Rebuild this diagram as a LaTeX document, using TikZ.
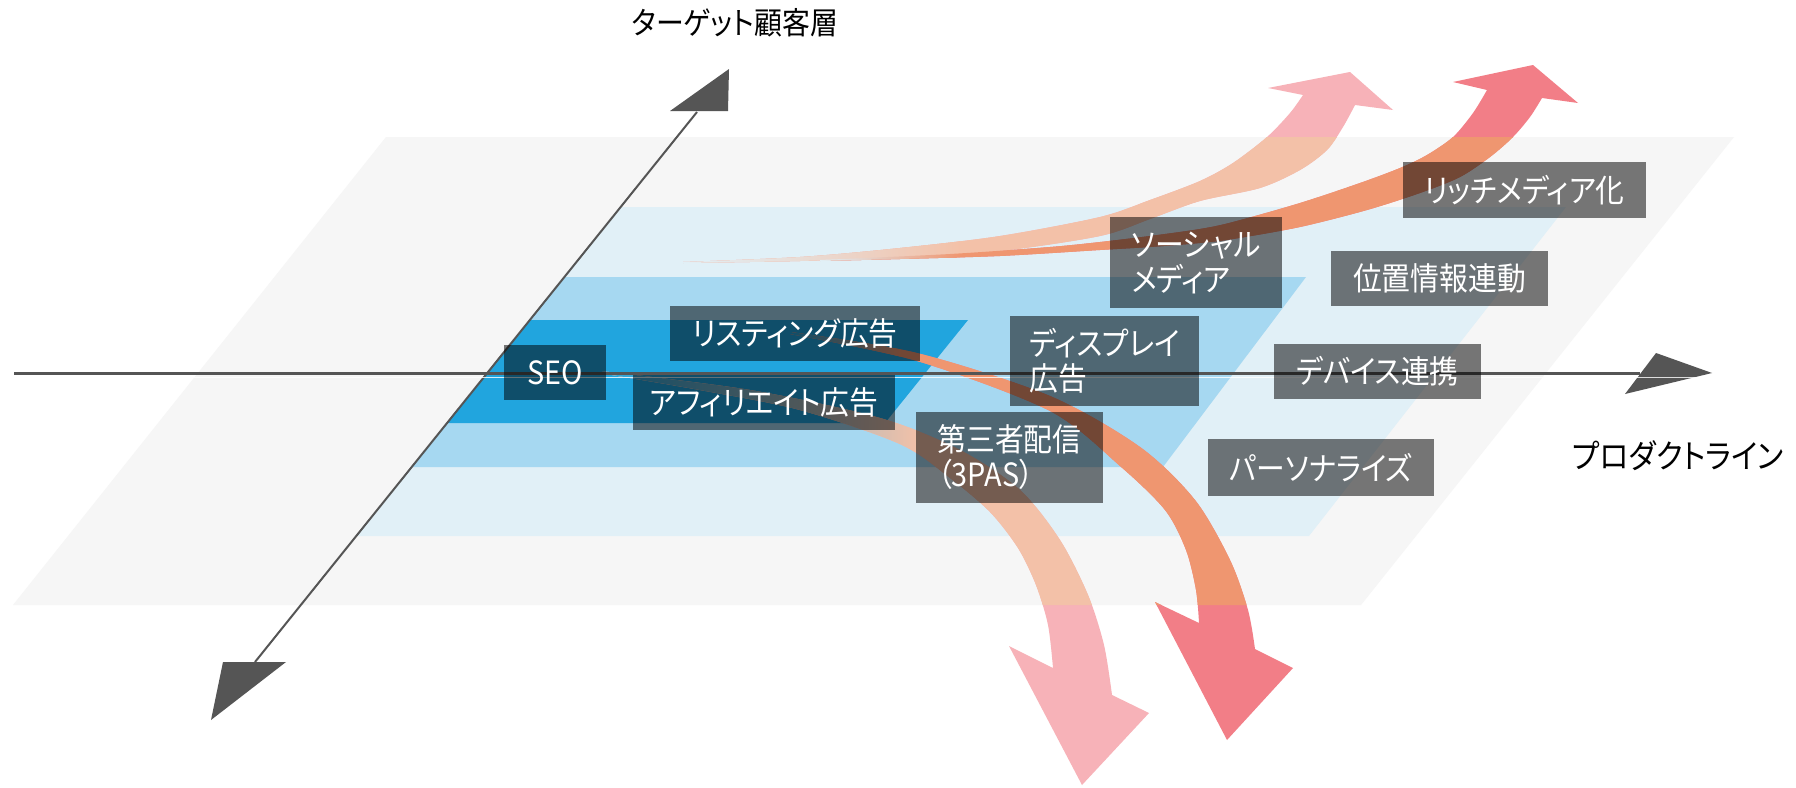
\documentclass[tikz,border=0pt]{standalone}
\usepackage{fontspec}
\newfontfamily\jpfont[RawFeature=+palt, FakeStretch=0.9]{Noto Sans CJK JP}

\definecolor{planegrey}{HTML}{F6F6F6}
\definecolor{bandlight}{HTML}{E1F0F7}
\definecolor{bandmid}{HTML}{A6D8F1}
\definecolor{bandstrong}{HTML}{21A5DE}
\definecolor{axisgrey}{HTML}{555555}
\definecolor{pinklt}{HTML}{F7B2B8}
\definecolor{pinkdk}{HTML}{F27E87}
\definecolor{peach}{HTML}{F3C1A8}
\definecolor{orangedk}{HTML}{EF9670}

\tikzset{
	tag/.style={fill=black, fill opacity=0.52, text opacity=1, text=white, inner sep=0pt, align=left, font=\jpfont\fontsize{32}{35}\selectfont},
	title/.style={text=black, inner sep=0pt, font=\jpfont\fontsize{31}{34}\selectfont},
	axisline/.style={draw=axisgrey, line width=2pt},
	axishead/.style={fill=axisgrey},
}

\def\planepath{(386,137) -- (1734,137) -- (1361,605) -- (13,605) -- cycle}
\def\arrowA{plot[smooth] coordinates {(683,262) (800,257) (900,248) (1000,236) (1100,217) (1150,200) (1200,181) (1233,163) (1267,137) (1290,113) (1303,95)} -- (1268,88) -- (1350,72) -- (1393,110) -- plot[smooth] coordinates {(1355,105) (1343,127) (1327,150) (1300,170) (1260,188) (1200,201) (1150,219) (1100,236) (1000,251) (900,257) (800,261) (683,263)} -- cycle}
\def\arrowB{plot[smooth] coordinates {(820,260) (950,254) (1050,247) (1100,242) (1150,236) (1200,229) (1233,222) (1300,203) (1360,183) (1400,168) (1427,155) (1453,137) (1473,113) (1487,90)} -- (1453,82) -- (1533,65) -- (1578,103) -- plot[smooth] coordinates {(1542,98) (1530,117) (1513,137) (1490,157) (1460,177) (1420,193) (1367,210) (1300,227) (1233,239) (1200,243) (1150,247) (1100,250) (1000,256) (900,259) (820,261)} -- cycle}
\def\arrowC{plot[smooth] coordinates {(600,371) (750,390) (880,418) (960,450) (1020,490) (1060,540) (1088,595) (1104,645) (1112,695)} -- (1149,713) -- (1082,785) -- (1009,646) -- plot[smooth] coordinates {(1053,668) (1048,625) (1036,585) (1018,548) (990,512) (950,478) (900,444) (800,410) (700,390) (600,373)} -- cycle}
\def\arrowD{plot[smooth] coordinates {(790,332) (917,353) (1050,396) (1140,447) (1195,500) (1230,560) (1248,610) (1255,649)} -- (1293,668) -- (1227,740) -- (1155,602) -- plot[smooth] coordinates {(1199,623) (1196,590) (1186,550) (1165,510) (1120,466) (1050,411) (917,361) (790,334)} -- cycle}

\begin{document}
\begin{tikzpicture}[x=1pt, y=-1pt]
	\useasboundingbox[fill=white] (0,0) rectangle (1796,787);

	\fill[planegrey] \planepath;
	\fill[bandlight] (621,207) -- (1566,207) -- (1309,536) -- (356,536) -- cycle;
	\fill[bandmid] (564,277) -- (1306,277) -- (1163,467) -- (412,467) -- cycle;
	\fill[bandstrong] (530,320) -- (968,320) -- (885,423) -- (447,423) -- cycle;

	\fill[pinklt] \arrowA;
	\fill[pinkdk] \arrowB;
	\fill[pinklt] \arrowC;
	\fill[pinkdk] \arrowD;
	\begin{scope}
		\clip \planepath;
		\fill[peach] \arrowA;
		\fill[orangedk] \arrowB;
		\fill[peach] \arrowC;
		\fill[orangedk] \arrowD;
	\end{scope}
	\begin{scope}
		\clip \arrowA;
		\shade[left color=bandlight, right color=peach] (680,230) rectangle (960,270);
	\end{scope}
	\begin{scope}
		\clip \arrowB;
		\shade[left color=bandlight, right color=orangedk] (818,240) rectangle (960,270);
	\end{scope}
	\begin{scope}
		\clip \arrowC;
		\shade[left color=bandstrong, right color=peach] (598,360) rectangle (920,450);
	\end{scope}
	\begin{scope}
		\clip \arrowD;
		\shade[left color=bandstrong, right color=orangedk] (788,325) rectangle (900,365);
	\end{scope}

	\coordinate (ybot) at (255,662);
	\coordinate (ytop) at (697,112);
	\coordinate (xleft) at (14,373);
	\coordinate (xright) at (1640,373);
	\draw[axisline] (ybot) -- (ytop);
	\fill[axishead] (729,69) -- (670,111) -- (728,111) -- cycle;
	\fill[axishead] (223,662) -- (286,662) -- (211,720) -- cycle;
	\draw[axisline, line width=3pt] (xleft) -- (xright);
	\fill[axishead] (1656,353) -- (1712,373) -- (1625,394) -- cycle;
	\draw[white, opacity=0.8, line width=1pt] (192,377.5) -- (1705,377.5);

	\node[tag, minimum width=102pt, minimum height=55pt] (seo) at (555,372.5) {SEO};
	\node[tag, minimum width=250pt, minimum height=55pt] (listing) at (795,333.5) {リスティング広告};
	\node[tag, minimum width=262pt, minimum height=55pt] (affiliate) at (764,402.5) {アフィリエイト広告};
	\node[tag, minimum width=189pt, minimum height=90pt] (display) at (1104.5,361) {ディスプレイ\\広告};
	\node[tag, minimum width=172pt, minimum height=91pt] (social) at (1196,262.5) {ソーシャル\\メディア};
	\node[tag, minimum width=243pt, minimum height=56pt] (richmedia) at (1524.5,190) {リッチメディア化};
	\node[tag, minimum width=217pt, minimum height=55pt] (location) at (1439.5,278.5) {位置情報連動};
	\node[tag, minimum width=207pt, minimum height=55pt] (device) at (1377.5,371.5) {デバイス連携};
	\node[tag, minimum width=187pt, minimum height=91pt] (thirdparty) at (1009.5,457.5) {第三者配信\\（3PAS）};
	\node[tag, minimum width=226pt, minimum height=57pt] (personal) at (1321,467.5) {パーソナライズ};

	\node[title] (target) at (735,23) {ターゲット顧客層};
	\node[title, font=\jpfont\fontsize{33}{36}\selectfont] (product) at (1678,456) {プロダクトライン};

\end{tikzpicture}
\end{document}
